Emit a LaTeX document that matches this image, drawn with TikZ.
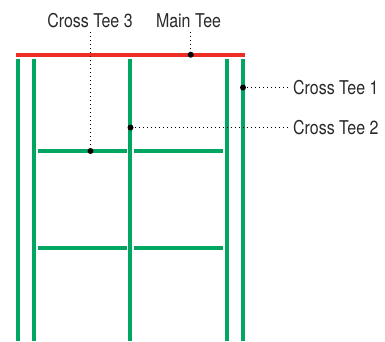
\documentclass[tikz,border=0pt]{standalone}
\usepackage{fontspec}
\setmainfont[FakeStretch=0.84]{TeX Gyre Heros}
\definecolor{teegreen}{HTML}{00A661}
\definecolor{teered}{HTML}{EE2E24}
\definecolor{labelgrey}{HTML}{2A2A2A}
\tikzset{
  crosstee/.style={draw=teegreen,line width=3.5pt},
  maintee/.style={draw=teered,line width=3.5pt},
  leader/.style={draw=black,line width=1pt,dash pattern=on 1pt off 3pt},
  tip/.style={circle,fill=black,inner sep=0pt,minimum size=6pt},
  lbl/.style={inner sep=0pt,text=labelgrey,font=\fontsize{19}{21}\selectfont},
}
\begin{document}
\begin{tikzpicture}[x=1pt,y=-1pt]
\useasboundingbox (0,0) rectangle (385,341);
% nodes and free ends
\coordinate (v1t) at (18,58.5);    \coordinate (v1b) at (18,341);
\coordinate (v2t) at (34,58.5);  \coordinate (v2b) at (34,341);
\coordinate (v3t) at (130,58.5); \coordinate (v3b) at (130,341);
\coordinate (v4t) at (227,58.5); \coordinate (v4b) at (227,341);
\coordinate (v5t) at (243,58.5);   \coordinate (v5b) at (243,341);
\coordinate (ml) at (16,54.8);     \coordinate (mr) at (245,54.8);
% tees
\draw[maintee] (ml) -- (mr);
\draw[crosstee] (v1t) -- (v1b);
\draw[crosstee] (v2t) -- (v2b);
\draw[crosstee] (v3t) -- (v3b);
\draw[crosstee] (v4t) -- (v4b);
\draw[crosstee] (v5t) -- (v5b);
\coordinate (h1a) at (37.5,151.2);  \coordinate (h1b) at (127,151.2);
\coordinate (h1c) at (134,151.2);   \coordinate (h1d) at (223,151.2);
\coordinate (h2a) at (37.5,248);\coordinate (h2b) at (127,248);
\coordinate (h2c) at (134,248); \coordinate (h2d) at (223,248);
\draw[crosstee] (h1a) -- (h1b);
\draw[crosstee] (h1c) -- (h1d);
\draw[crosstee] (h2a) -- (h2b);
\draw[crosstee] (h2c) -- (h2d);
% labels
\node[lbl] (ct3) at (90,20.5) {Cross Tee 3};
\node[lbl] (mt) at (188.5,20.5) {Main Tee};
\node[lbl,anchor=west] (ct1) at (293,87.5) {Cross Tee 1};
\node[lbl,anchor=west] (ct2) at (293,127.5) {Cross Tee 2};
% dots
\node[tip] (d3) at (90.5,151) {};
\node[tip] (dm) at (190.7,54.7) {};
\node[tip] (d1) at (243,87.5) {};
\node[tip] (d2) at (130.5,127.5) {};
% leaders
\coordinate (e3) at (90.5,32);
\coordinate (em) at (190.7,32);
\coordinate (e1) at (288,87.5);
\coordinate (e2) at (288,127.5);
\draw[leader] (e3) -- (d3.center);
\draw[leader] (em) -- (dm.center);
\draw[leader] (d1.center) -- (e1);
\draw[leader] (d2.center) -- (e2);
\end{tikzpicture}
\end{document}
